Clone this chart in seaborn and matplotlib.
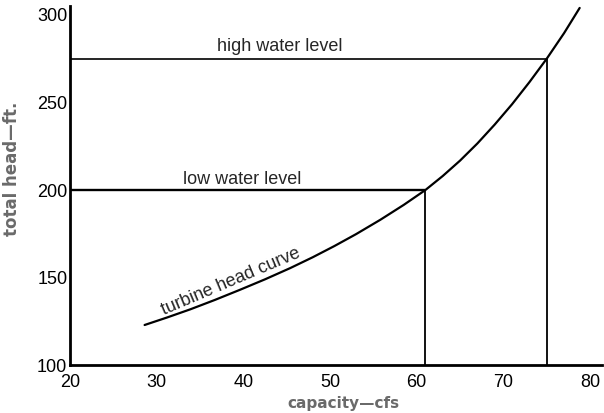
import matplotlib
matplotlib.use("Agg")
import matplotlib.pyplot as plt
import pandas as pd
import seaborn as sns

# turbine head curve
capacity = [28.6, 31.2, 33.9, 36.7, 39.6, 42.5, 45.4, 48.0, 50.5, 53.0, 55.8, 58.5,
            61.0, 63.0, 65.0, 67.0, 69.0, 71.0, 73.0, 75.0, 77.0, 78.8]
total_head = [122.9, 127.2, 131.9, 137.2, 143.0, 149.0, 155.4, 161.6, 168.0, 174.8, 183.0, 191.5,
              200.0, 208.0, 216.8, 226.6, 237.4, 249.0, 261.6, 275.0, 289.6, 304.0]

# operating points (water levels)
level_names = ["high water level", "low water level"]
level_head = [275, 200]
level_capacity = [75, 61]

x_ticks = [20, 30, 40, 50, 60, 70, 80]
y_ticks = [100, 150, 200, 250, 300]

sns.set_theme(style="white")
plt.rcParams["font.family"] = ["Liberation Sans", "DejaVu Sans"]

fig = plt.figure(figsize=(6.04, 4.13), dpi=100)
ax = fig.add_axes([0.116, 0.116, 0.881, 0.869])

df = pd.DataFrame({"capacity": capacity, "head": total_head})
sns.lineplot(data=df, x="capacity", y="head", ax=ax, color="black",
             linewidth=1.6, clip_on=False, sort=False)

# horizontal level lines and vertical drops
ax.hlines(level_head, 20, level_capacity, colors="black", linewidth=[1.2, 1.7])
ax.vlines(level_capacity, 100, level_head, colors="black", linewidth=1.3)

ax.text(44.2, 282, level_names[0], fontsize=13, ha="center", va="center")
ax.text(39.9, 206, level_names[1], fontsize=13, ha="center", va="center")
ax.text(38.6, 147.5, "turbine head curve", fontsize=13, ha="center", va="center",
        rotation=23, rotation_mode="anchor")

ax.set_xlim(20, 81.4)
ax.set_ylim(100, 305)
ax.set_xticks(x_ticks)
ax.set_yticks(y_ticks)
ax.tick_params(axis="both", length=0, labelsize=13, colors="black")
ax.tick_params(axis="x", pad=6.5)
ax.tick_params(axis="y", pad=2)

for side in ["top", "right"]:
    ax.spines[side].set_visible(False)
for side in ["left", "bottom"]:
    ax.spines[side].set_color("black")
    ax.spines[side].set_linewidth(2.0)

ax.set_xlabel("capacity\u2014cfs", fontsize=11, fontweight="bold", color="#6a6a6a",
              family="DejaVu Sans")
ax.set_ylabel("total head\u2014ft.", fontsize=12, fontweight="bold", color="#6a6a6a",
              family="DejaVu Sans")
ax.xaxis.set_label_coords(0.514, -0.085)
ax.yaxis.set_label_coords(-0.093, 0.546)

fig.savefig("out.png", dpi=100)
